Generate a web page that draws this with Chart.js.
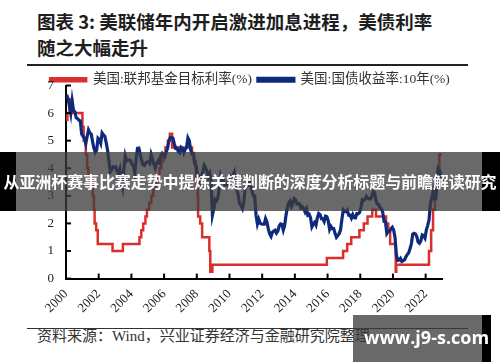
<!DOCTYPE html>
<html>
<head>
<meta charset="utf-8">
<script src="https://cdn.jsdelivr.net/npm/chart.js@4"></script>
<style>
  html, body { margin: 0; padding: 0; background: #fff; }
  body { width: 500px; height: 362px; position: relative; overflow: hidden; }
  #title { position: absolute; left: 37px; top: 9px; font-family: "Noto Sans CJK SC", sans-serif; font-weight: 700; font-size: 18.5px; line-height: 25.5px; color: #1e1e1e; white-space: nowrap; }
  #rule1 { position: absolute; left: 27px; top: 64px; width: 441px; height: 1.5px; background: #222; }
  #rule2 { position: absolute; left: 27px; top: 328px; width: 441px; height: 1px; background: #333; }
  #source { position: absolute; left: 37px; top: 326px; font-family: "Liberation Serif", "Noto Sans CJK SC", serif; font-size: 15px; line-height: 20px; color: #333; white-space: nowrap; }
  #wrap { position: absolute; left: 0; top: 64px; width: 500px; height: 260px; }
  #banner { position: absolute; left: 0; top: 152px; width: 500px; height: 59px; background: rgba(60,60,60,0.77); }
  .blk { position: absolute; background: #000; }
  #bannerText { position: absolute; left: 0; top: 152px; width: 500px; height: 59px; line-height: 59px; text-align: center; font-family: "Noto Sans CJK SC", sans-serif; font-weight: 700; font-size: 16px; color: #fff; white-space: nowrap; letter-spacing: -0.1px; }
  #wm { position: absolute; left: 353px; top: 315px; width: 129px; height: 47px; background: rgba(60,60,60,0.77); }
  #wmText { position: absolute; left: 364px; top: 326px; font-family: "Open Sans", "DejaVu Sans", sans-serif; font-weight: 700; font-size: 18px; line-height: 22px; color: #fff; white-space: nowrap; }
</style>
</head>
<body>
<div id="title">图表 3: 美联储年内开启激进加息进程，美债利率<br>随之大幅走升</div>
<div id="rule1"></div>
<div id="wrap"><canvas id="c"></canvas></div>
<div id="rule2"></div>
<div id="source">资料来源：Wind，兴业证券经济与金融研究院整理</div>
<div id="banner"></div>
<div class="blk" style="left:0;top:152px;width:16px;height:59px;"></div>
<div class="blk" style="left:482px;top:152px;width:18px;height:59px;"></div>
<div id="bannerText">从亚洲杯赛事比赛走势中提炼关键判断的深度分析标题与前瞻解读研究</div>
<div id="wm"></div>
<div class="blk" style="left:482px;top:315px;width:9px;height:47px;"></div>
<div id="wmText">www.j9-s.com</div>
<script>
// ---------------- DATA ----------------
const seriesNames = ["美国:联邦基金目标利率(%)", "美国:国债收益率:10年(%)"];

// Fed funds target rate: change dates and new levels (%)
const fedDates = [
  "2000-01-01","2000-02-02","2000-03-21","2000-05-16",
  "2001-01-03","2001-01-31","2001-03-20","2001-04-18","2001-05-15","2001-06-27","2001-08-21","2001-09-17","2001-10-02","2001-11-06","2001-12-11",
  "2002-11-06","2003-06-25",
  "2004-06-30","2004-08-10","2004-09-21","2004-11-10","2004-12-14",
  "2005-02-02","2005-03-22","2005-05-03","2005-06-30","2005-08-09","2005-09-20","2005-11-01","2005-12-13",
  "2006-01-31","2006-03-28","2006-05-10","2006-06-29",
  "2007-09-18","2007-10-31","2007-12-11",
  "2008-01-22","2008-01-30","2008-03-18","2008-04-30","2008-10-08","2008-10-29","2008-12-16",
  "2015-12-16","2016-12-14",
  "2017-03-15","2017-06-14","2017-12-13",
  "2018-03-21","2018-06-13","2018-09-26","2018-12-19",
  "2019-07-31","2019-09-18","2019-10-30",
  "2020-03-03","2020-03-15",
  "2022-03-16","2022-05-04","2022-06-15","2022-07-27","2022-09-21","2022-11-02","2022-12-14","2022-12-30"
];
const fedRates = [
  5.75,5.75,6.0,6.5,
  6.0,5.5,5.0,4.5,4.0,3.75,3.5,3.0,2.5,2.0,1.75,
  1.25,1.0,
  1.25,1.5,1.75,2.0,2.25,
  2.5,2.75,3.0,3.25,3.5,3.75,4.0,4.25,
  4.5,4.75,5.0,5.25,
  4.75,4.5,4.25,
  3.5,3.0,2.25,2.0,1.5,1.0,0.25,
  0.5,0.75,
  1.0,1.25,1.5,
  1.75,2.0,2.25,2.5,
  2.25,2.0,1.75,
  1.25,0.25,
  0.5,1.0,1.75,2.5,3.25,4.0,4.5,4.5
];

// 10-year Treasury yield, monthly, Jan 2000 - Dec 2022 (%)
const yieldStartYear = 2000;
const yield10y = [
  6.66,6.52,6.26,5.99,6.44,6.10,6.05,5.83,5.80,5.74,5.72,5.24,
  5.16,5.10,4.89,5.14,5.39,5.28,5.24,4.97,4.73,4.57,4.65,5.09,
  5.04,4.91,5.28,5.21,5.16,4.93,4.65,4.26,3.87,3.94,4.05,4.03,
  4.05,3.90,3.81,3.96,3.57,3.33,3.98,4.45,4.27,4.29,4.30,4.27,
  4.15,4.08,3.83,4.35,4.72,4.73,4.50,4.28,4.13,4.10,4.19,4.23,
  4.22,4.17,4.50,4.34,4.14,4.00,4.18,4.26,4.20,4.46,4.54,4.47,
  4.42,4.57,4.72,4.99,5.11,5.11,5.09,4.88,4.72,4.73,4.60,4.56,
  4.76,4.72,4.56,4.69,4.75,5.10,5.00,4.67,4.52,4.53,4.15,4.10,
  3.74,3.74,3.51,3.68,3.88,4.10,4.01,3.89,3.69,3.81,3.53,2.30,
  2.52,2.87,2.82,2.93,3.29,3.72,3.56,3.59,3.40,3.39,3.40,3.59,
  3.73,3.69,3.73,3.85,3.42,3.20,3.01,2.70,2.65,2.54,2.76,3.29,
  3.39,3.58,3.41,3.46,3.17,3.00,3.00,2.30,1.98,2.15,2.01,1.98,
  1.97,1.97,2.17,2.05,1.80,1.62,1.53,1.68,1.72,1.75,1.65,1.72,
  1.91,1.98,1.96,1.76,1.93,2.30,2.58,2.74,2.81,2.62,2.72,2.90,
  2.86,2.71,2.72,2.71,2.56,2.60,2.54,2.42,2.53,2.30,2.33,2.21,
  1.88,1.98,2.04,1.94,2.20,2.36,2.32,2.17,2.17,2.07,2.26,2.24,
  2.09,1.78,1.89,1.81,1.81,1.64,1.50,1.56,1.63,1.76,2.14,2.49,
  2.43,2.42,2.48,2.30,2.30,2.19,2.32,2.21,2.20,2.36,2.35,2.40,
  2.58,2.86,2.84,2.87,2.98,2.91,2.89,2.89,3.00,3.15,3.12,2.83,
  2.71,2.68,2.57,2.53,2.40,2.07,2.06,1.63,1.70,1.71,1.81,1.86,
  1.76,1.50,0.87,0.66,0.67,0.73,0.62,0.65,0.68,0.79,0.87,0.93,
  1.08,1.26,1.61,1.64,1.62,1.52,1.32,1.28,1.37,1.58,1.56,1.47,
  1.76,1.93,2.13,2.75,2.90,3.14,2.90,2.90,3.52,3.98,3.89,3.62
];

const xTickYears = [2000, 2002, 2004, 2006, 2008, 2010, 2012, 2014, 2016, 2018, 2020, 2022];
const xMin = 2000, xMax = 2023;
const yMin = 0, yMax = 7, yStep = 1;

// ---------------- BUILD ----------------
function toYear(s) {
  const [y, m, d] = s.split("-").map(Number);
  const start = Date.UTC(y, 0, 1), end = Date.UTC(y + 1, 0, 1);
  return y + (Date.UTC(y, m - 1, d) - start) / (end - start);
}
const fedPoints = fedDates.map((d, i) => ({ x: toYear(d), y: fedRates[i] }));
const yieldPoints = yield10y.map((v, i) => ({ x: yieldStartYear + (i + 0.5) / 12, y: v }));

const inwardTicks = {
  id: "inwardTicks",
  afterDatasetsDraw(chart) {
    const { ctx } = chart;
    const x = chart.scales.x, y = chart.scales.y;
    ctx.save();
    ctx.strokeStyle = "#000";
    ctx.lineWidth = 2;
    x.ticks.forEach((t, i) => {
      const px = x.getPixelForTick(i);
      ctx.beginPath(); ctx.moveTo(px, x.top); ctx.lineTo(px, x.top - 5); ctx.stroke();
    });
    y.ticks.forEach((t, i) => {
      const py = y.getPixelForTick(i);
      ctx.beginPath(); ctx.moveTo(y.right, py); ctx.lineTo(y.right + 5, py); ctx.stroke();
    });
    ctx.restore();
  }
};

const legendTighten = {
  id: "legendTighten",
  beforeInit(chart) {
    const lg = chart.legend;
    if (!lg) return;
    const origFit = lg.fit;
    lg.fit = function () { origFit.call(this); this.height -= 11; };
  }
};

const serif = "'Liberation Serif', 'Noto Sans CJK SC', serif";

new Chart(document.getElementById("c"), {
  type: "line",
  data: {
    datasets: [
      { label: seriesNames[1], data: yieldPoints, borderColor: "#0d2a7c", backgroundColor: "#0d2a7c", borderWidth: 3.2, pointRadius: 0, tension: 0, order: 1 },
      { label: seriesNames[0], data: fedPoints, borderColor: "#d9302c", backgroundColor: "#d9302c", borderWidth: 2.5, pointRadius: 0, stepped: "after", order: 2 }
    ]
  },
  options: {
    responsive: true,
    maintainAspectRatio: false,
    animation: false,
    events: [],
    layout: { padding: { left: 0, right: 0, top: 3, bottom: 0 } },
    plugins: {
      legend: {
        display: true,
        position: "top",
        reverse: true,
        labels: {
          font: { family: serif, size: 13.5 },
          color: "#333",
          boxWidth: 36,
          boxHeight: 3,
          padding: 6
        }
      },
      tooltip: { enabled: false }
    },
    scales: {
      x: {
        type: "linear",
        min: xMin, max: xMax,
        afterBuildTicks: (s) => { s.ticks = xTickYears.map(v => ({ value: v })); },
        ticks: { autoSkip: false, minRotation: 45, maxRotation: 45, padding: 8, color: "#222", font: { family: serif, size: 13 }, callback: v => String(v) },
        grid: { display: true, drawOnChartArea: false, drawTicks: false },
        border: { display: true, color: "#000", width: 2 }
      },
      y: {
        min: yMin, max: yMax,
        afterFit: (s) => { s.width = 66; },
        ticks: { stepSize: yStep, padding: 12, color: "#222", font: { family: serif, size: 13 } },
        grid: { display: true, drawOnChartArea: false, drawTicks: false },
        border: { display: true, color: "#000", width: 2 }
      },
      yRight: {
        position: "right",
        min: yMin, max: yMax,
        afterFit: (s) => { s.width = 58; },
        ticks: { display: false },
        grid: { display: false },
        border: { display: false }
      }
    }
  },
  plugins: [inwardTicks, legendTighten]
});
</script>
</body>
</html>
